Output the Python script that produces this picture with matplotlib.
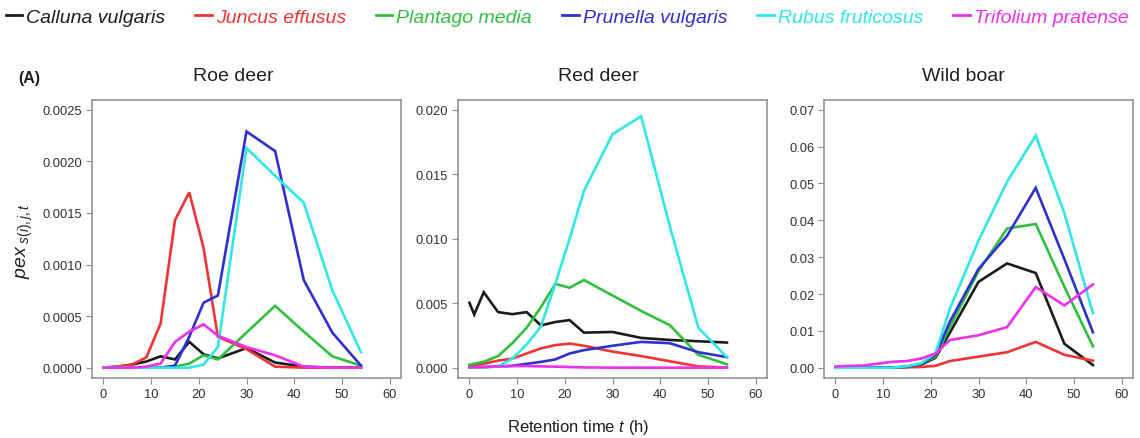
import matplotlib
matplotlib.use("Agg")
import matplotlib.pyplot as plt
from matplotlib import font_manager
from matplotlib.lines import Line2D
import numpy as np

# Retention times (h)
times = [0, 1, 3, 6, 9, 12, 15, 18, 21, 24, 30, 36, 42, 48, 54]

species = ["Calluna vulgaris", "Juncus effusus", "Plantago media",
           "Prunella vulgaris", "Rubus fruticosus", "Trifolium pratense"]

# Roe deer
roe_calluna = [0, 0.000005, 0.00001, 0.00003, 0.00006, 0.00011, 0.00008, 0.00025, 0.00013, 0.00009, 0.00019, 0.00005, 0.00001, 0, 0]
roe_juncus = [0, 0, 0.00001, 0.00003, 0.0001, 0.00043, 0.00143, 0.0017, 0.00116, 0.0003, 0.00018, 0.00001, 0, 0, 0]
roe_plantago = [0, 0, 0, 0, 0, 0, 0.00001, 0.00004, 0.00012, 0.00008, 0.00034, 0.0006, 0.00035, 0.00011, 0.00002]
roe_prunella = [0, 0, 0, 0, 0, 0, 0.00002, 0.0003, 0.00063, 0.0007, 0.00229, 0.0021, 0.00085, 0.00034, 0.00002]
roe_rubus = [0, 0, 0, 0, 0, 0, 0, 0, 0.00003, 0.0002, 0.00213, 0.00186, 0.0016, 0.00075, 0.00015]
roe_trifolium = [0, 0, 0, 0, 0.00001, 0.00004, 0.00025, 0.00035, 0.00042, 0.00031, 0.0002, 0.00012, 0.00001, 0, 0]

# Red deer
red_calluna = [0.00503, 0.00413, 0.00585, 0.00431, 0.00415, 0.00431, 0.00328, 0.00354, 0.00369, 0.00272, 0.00277, 0.00231, 0.00215, 0.00205, 0.00195]
red_juncus = [0.00015, 0.0002, 0.0003, 0.00055, 0.0007, 0.0011, 0.0015, 0.00175, 0.00187, 0.0017, 0.00125, 0.0009, 0.0005, 0.0001, 0.0]
red_plantago = [0.00022, 0.0003, 0.00046, 0.0009, 0.0019, 0.0031, 0.0047, 0.0065, 0.0062, 0.0068, 0.0056, 0.0044, 0.0033, 0.001, 0.00026]
red_prunella = [0.00003, 0.00003, 0.00005, 0.0001, 0.00015, 0.0003, 0.00045, 0.00064, 0.0011, 0.00136, 0.0017, 0.002, 0.0019, 0.0012, 0.00082]
red_rubus = [0, 0, 0, 0.0001, 0.0007, 0.0018, 0.0032, 0.0065, 0.0100, 0.0137, 0.0181, 0.0195, 0.0110, 0.0031, 0.0008]
red_trifolium = [0.00002, 0.00003, 0.00005, 0.0001, 0.00012, 0.00013, 0.0001, 0.00008, 0.00005, 0.00002, 0, 0, 0, 0, 0]

# Wild boar
boar_calluna = [0, 0, 0, 0, 0, 0, 0.0002, 0.0008, 0.0027, 0.0095, 0.0233, 0.0283, 0.0257, 0.0065, 0.0007]
boar_juncus = [0, 0, 0, 0, 0, 0, 0.0001, 0.0002, 0.0005, 0.0018, 0.003, 0.0042, 0.0070, 0.0035, 0.0019]
boar_plantago = [0, 0, 0, 0, 0, 0, 0.0003, 0.001, 0.003, 0.011, 0.0262, 0.0378, 0.039, 0.022, 0.0058]
boar_prunella = [0, 0, 0, 0, 0, 0, 0.0003, 0.001, 0.0035, 0.0125, 0.0268, 0.0358, 0.0488, 0.0295, 0.0096]
boar_rubus = [0, 0, 0, 0, 0, 0, 0.0004, 0.0012, 0.004, 0.016, 0.0345, 0.0505, 0.063, 0.042, 0.0148]
boar_trifolium = [0.0003, 0.0004, 0.0005, 0.0006, 0.0011, 0.0016, 0.0018, 0.0025, 0.0039, 0.0075, 0.0088, 0.011, 0.0219, 0.0169, 0.0226]

panel_titles = ["Roe deer", "Red deer", "Wild boar"]
panel_series = [
    [roe_calluna, roe_juncus, roe_plantago, roe_prunella, roe_rubus, roe_trifolium],
    [red_calluna, red_juncus, red_plantago, red_prunella, red_rubus, red_trifolium],
    [boar_calluna, boar_juncus, boar_plantago, boar_prunella, boar_rubus, boar_trifolium],
]
panel_ymax = [0.0025, 0.020, 0.07]
panel_ystep = [0.0005, 0.005, 0.01]
panel_yfmt = ["{:.4f}", "{:.3f}", "{:.2f}"]
x_ticks = [0, 10, 20, 30, 40, 50, 60]

colors = ["#1c1c1c", "#f03434", "#30c040", "#3030d0", "#30e6e6", "#ee30ee"]

available = {f.name for f in font_manager.fontManager.ttflist}
base_font = "Liberation Sans" if "Liberation Sans" in available else "DejaVu Sans"

plt.rcParams["font.family"] = [base_font, "DejaVu Sans"]
plt.rcParams["mathtext.fontset"] = "custom"
plt.rcParams["mathtext.rm"] = base_font
plt.rcParams["mathtext.it"] = base_font + ":italic"

W, H = 1140, 439
fig = plt.figure(figsize=(W / 100, H / 100), dpi=100)

frame_color = "#8c8c8c"
label_color = "#303030"

lefts = [92, 458, 824]
ax_w, ax_top, ax_bot = 309, 100.5, 379

for i in range(3):
    ax = fig.add_axes([lefts[i] / W, 1 - ax_bot / H, ax_w / W, (ax_bot - ax_top) / H])
    for s, c in zip(panel_series[i], colors):
        ax.plot(times, s, color=c, lw=1.9, solid_joinstyle="miter")
    ax.set_xlim(-2.4, 62.4)
    ymax = panel_ymax[i]
    ax.set_ylim(-0.04 * ymax, 1.04 * ymax)
    yt = np.arange(0, ymax + panel_ystep[i] / 2, panel_ystep[i])
    ax.set_yticks(yt)
    ax.set_yticklabels([panel_yfmt[i].format(v) for v in yt])
    ax.set_xticks(x_ticks)
    ax.tick_params(axis="both", direction="out", length=4.5, width=0.8,
                   color=frame_color, labelsize=9.3, labelcolor=label_color, pad=2.5)
    for sp in ax.spines.values():
        sp.set_color(frame_color)
        sp.set_linewidth(1.1)
    fig.text([233, 598, 963][i] / W, 1 - 77 / H, panel_titles[i], fontsize=14,
             ha="center", va="center", color="#202020")

fig.text(29 / W, 1 - 78 / H, "(A)", fontsize=11.5, fontweight="bold",
         ha="center", va="center", color="#202020")
fig.text(25 / W, 1 - 241 / H, r"$\mathit{pex}_{\ \mathit{s(i),j,t}}$", fontsize=14,
         rotation=90, ha="center", va="center", color="#202020")
fig.text(578 / W, 1 - 428 / H, r"Retention time $\mathit{t}$ (h)", fontsize=12,
         ha="center", va="center", color="#202020")

handles = [Line2D([], [], color=c, lw=2) for c in colors]
leg = fig.legend(handles, species, loc="center", bbox_to_anchor=(567 / W, 1 - 18 / H),
                 ncol=6, frameon=False, handlelength=0.85, handletextpad=0.2,
                 columnspacing=1.55, borderpad=0.1, labelcolor=colors,
                 prop={"family": [base_font], "style": "italic", "size": 14})

fig.savefig("out.png", dpi=100)
